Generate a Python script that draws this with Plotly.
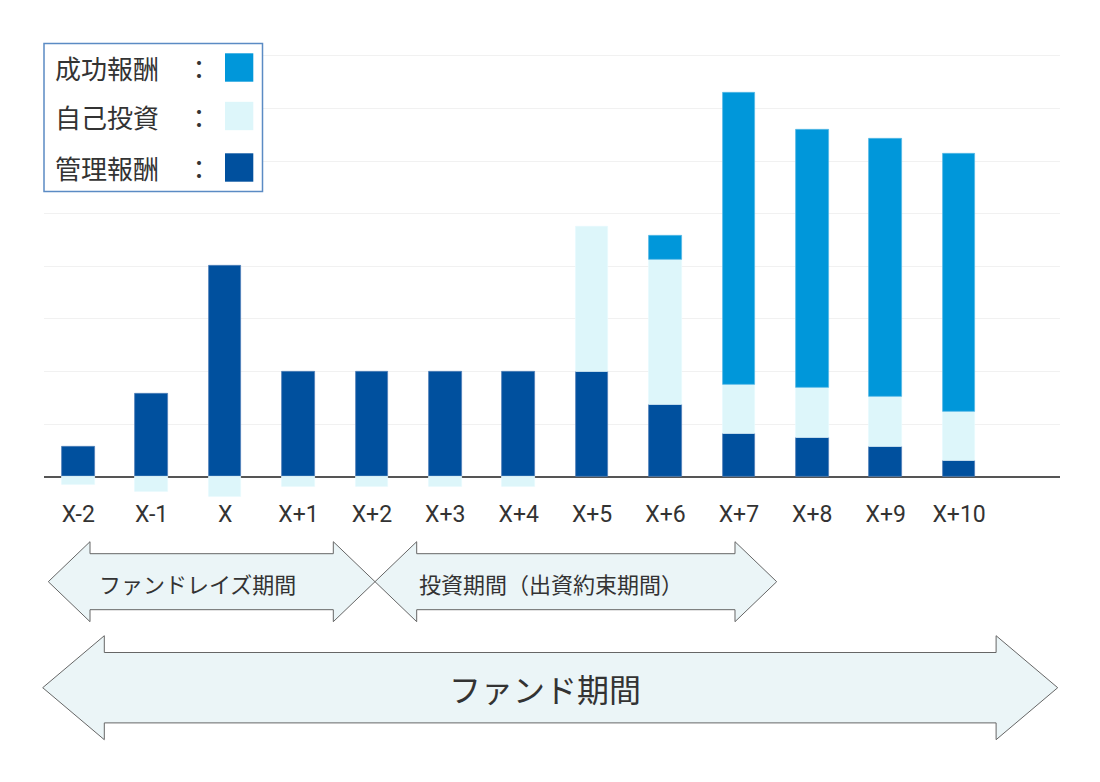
import plotly.graph_objects as go

W, H = 1100, 782

categories = ["X-2", "X-1", "X", "X+1", "X+2", "X+3", "X+4", "X+5", "X+6", "X+7", "X+8", "X+9", "X+10"]
management_fee = [0.57, 1.58, 4.0, 2.0, 2.0, 2.0, 2.0, 2.0, 1.36, 0.82, 0.73, 0.57, 0.31]
self_investment = [-0.16, -0.29, -0.38, -0.19, -0.19, -0.19, -0.19, 2.75, 2.76, 0.92, 0.95, 0.95, 0.92]
success_fee = [None, None, None, None, None, None, None, None, 0.45, 5.55, 4.91, 4.91, 4.91]

legend_labels = ["成功報酬", "自己投資", "管理報酬"]
period_labels = ["ファンドレイズ期間", "投資期間（出資約束期間）", "ファンド期間"]

C_SUCCESS = "#0097da"
C_SELF = "#ddf6fa"
C_MGMT = "#00509e"
TXT = "#333333"
FONT = "Roboto, 'Noto Sans CJK JP', sans-serif"
JFONT = "'Noto Sans CJK JP', sans-serif"


def px(x):
    return x / W


def py(y):
    return 1 - y / H


fig = go.Figure()
fig.add_trace(go.Bar(x=categories, y=management_fee, name=legend_labels[2],
                     marker=dict(color=C_MGMT, line=dict(color="#4f7fb8", width=0.8))))
fig.add_trace(go.Bar(x=categories, y=self_investment, name=legend_labels[1],
                     marker=dict(color=C_SELF, line=dict(color="#e6f9fc", width=0.8))))
fig.add_trace(go.Bar(x=categories, y=success_fee, name=legend_labels[0],
                     marker=dict(color=C_SUCCESS, line=dict(color="#55b8e6", width=0.8))))

shapes = []

# legend box
shapes.append(dict(type="rect", xref="paper", yref="paper",
                   x0=px(44), x1=px(262.5), y0=py(191.5), y1=py(43.5),
                   line=dict(color="#5b8bc4", width=1.5), fillcolor="white", layer="above"))
legend_rows = [(legend_labels[0], C_SUCCESS, 67.5), (legend_labels[1], C_SELF, 116), (legend_labels[2], C_MGMT, 167.5)]
annotations = []
for label, col, yc in legend_rows:
    shapes.append(dict(type="rect", xref="paper", yref="paper",
                       x0=px(225), x1=px(253.3), y0=py(yc + 14.2), y1=py(yc - 14.2),
                       line=dict(width=0), fillcolor=col, layer="above"))
    annotations.append(dict(x=px(53), y=py(yc), xref="paper", yref="paper", text=label,
                            showarrow=False, xanchor="left", yanchor="middle",
                            font=dict(family=JFONT, size=26, color=TXT)))
    annotations.append(dict(x=px(199), y=py(yc), xref="paper", yref="paper", text="：",
                            showarrow=False, xanchor="center", yanchor="middle",
                            font=dict(family=JFONT, size=26, color=TXT)))


def arrow_path(xl, xr, yc, head, shaft_half, head_half):
    pts = [(xl, yc), (xl + head, yc - head_half), (xl + head, yc - shaft_half),
           (xr - head, yc - shaft_half), (xr - head, yc - head_half), (xr, yc),
           (xr - head, yc + head_half), (xr - head, yc + shaft_half),
           (xl + head, yc + shaft_half), (xl + head, yc + head_half)]
    return "M " + " L ".join(f"{px(a):.5f},{py(b):.5f}" for a, b in pts) + " Z"


for xl, xr, yc, head, sh, hh in [(48.3, 375, 581.7, 41.7, 28, 40),
                                  (375, 776.7, 581.7, 41.7, 28, 40),
                                  (42.7, 1057.7, 687.7, 61.6, 35.2, 52)]:
    shapes.append(dict(type="path", xref="paper", yref="paper", path=arrow_path(xl, xr, yc, head, sh, hh),
                       fillcolor="#ebf5f7", line=dict(color="#666666", width=1), layer="above"))

annotations.append(dict(x=px(97), y=py(583), xref="paper", yref="paper", text=period_labels[0],
                        showarrow=False, xanchor="left", yanchor="middle",
                        font=dict(family=JFONT, size=22, color=TXT)))
annotations.append(dict(x=px(417), y=py(583), xref="paper", yref="paper", text=period_labels[1],
                        showarrow=False, xanchor="left", yanchor="middle",
                        font=dict(family=JFONT, size=22, color=TXT)))
annotations.append(dict(x=px(545), y=py(687.5), xref="paper", yref="paper", text=period_labels[2],
                        showarrow=False, xanchor="center", yanchor="middle",
                        font=dict(family=JFONT, size=32, color=TXT)))

zero_px = 476.6
ppu = 52.6
y_lo, y_hi = -0.41, 8.4
plot_bottom = zero_px - y_lo * ppu
plot_top = zero_px - y_hi * ppu

fig.update_layout(
    width=W, height=H,
    margin=dict(l=0, r=0, t=0, b=0),
    paper_bgcolor="white", plot_bgcolor="white",
    barmode="relative", bargap=0.0,
    showlegend=False,
    font=dict(family=FONT, color=TXT),
    xaxis=dict(domain=[px(44), px(1060)], range=[-0.467, 13.375], type="category",
               showgrid=False, showline=False, ticks="", zeroline=False,
               tickfont=dict(family=FONT, size=23, color=TXT)),
    yaxis=dict(domain=[py(plot_bottom), py(plot_top)], range=[y_lo, y_hi], dtick=1,
               showgrid=True, gridcolor="#f1f1f1", gridwidth=1,
               zeroline=True, zerolinecolor="#555555", zerolinewidth=1.5,
               showticklabels=False, ticks="", showline=False),
    shapes=shapes,
    annotations=annotations,
)
fig.update_traces(width=0.443)

fig.write_html("out.html")
